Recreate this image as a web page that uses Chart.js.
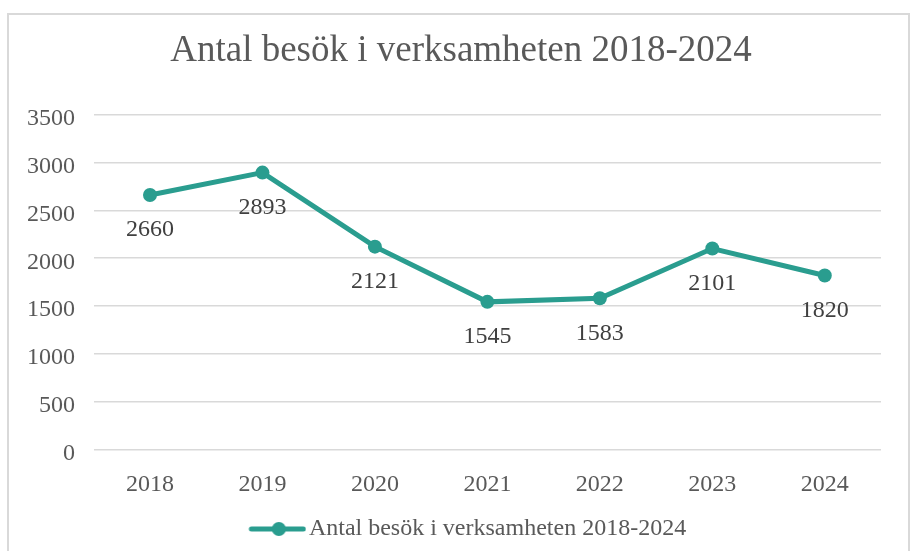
<!DOCTYPE html>
<html>
<head>
<meta charset="utf-8">
<script src="https://cdn.jsdelivr.net/npm/chart.js@4/dist/chart.umd.min.js"></script>
<style>
    html, body { margin: 0; padding: 0; background: #fff; overflow: hidden; }
    .frame {
        position: absolute; left: 7px; top: 13px;
        width: 903px; height: 600px;
        box-sizing: border-box;
        border: 2px solid #d9d9d9;
    }
    #visitsChart { position: absolute; left: 0; top: 0; }
</style>
</head>
<body>
<div class="frame"></div>
<canvas id="visitsChart" width="912" height="551"></canvas>
<script>
const years = ['2018', '2019', '2020', '2021', '2022', '2023', '2024'];
const visits = [2660, 2893, 2121, 1545, 1583, 2101, 1820];
const seriesName = 'Antal besök i verksamheten 2018-2024';
const chartTitle = 'Antal besök i verksamheten 2018-2024';

const lineColor = '#2a9d8f';
const serif = "'Liberation Serif', 'Times New Roman', serif";

Chart.defaults.font.family = serif;

// legend marker: short line with a dot, shifted right inside its box
function legendMarker() {
    const c = document.createElement('canvas');
    c.width = 80;
    c.height = 16;
    const g = c.getContext('2d');
    g.strokeStyle = lineColor;
    g.lineWidth = 5;
    g.lineCap = 'round';
    g.beginPath();
    g.moveTo(25, 8);
    g.lineTo(77, 8);
    g.stroke();
    g.fillStyle = lineColor;
    g.beginPath();
    g.arc(52.5, 8, 7, 0, Math.PI * 2);
    g.fill();
    return c;
}

const valueLabels = {
    id: 'valueLabels',
    afterDatasetsDraw(chart) {
        const ctx = chart.ctx;
        const meta = chart.getDatasetMeta(0);
        ctx.save();
        ctx.font = '24px ' + serif;
        ctx.fillStyle = '#404040';
        ctx.textAlign = 'center';
        ctx.textBaseline = 'middle';
        meta.data.forEach((pt, i) => {
            ctx.fillText(String(visits[i]), pt.x, pt.y + 35);
        });
        ctx.restore();
    }
};

const marker = legendMarker();

new Chart(document.getElementById('visitsChart').getContext('2d'), {
    type: 'line',
    data: {
        labels: years,
        datasets: [{
            label: seriesName,
            data: visits,
            borderColor: lineColor,
            backgroundColor: lineColor,
            borderWidth: 5,
            pointRadius: 7,
            pointHoverRadius: 7,
            pointBackgroundColor: lineColor,
            pointBorderWidth: 0,
            tension: 0
        }]
    },
    options: {
        responsive: false,
        devicePixelRatio: 1,
        animation: false,
        layout: {
            padding: { left: 41, right: 31, top: 0, bottom: 0 }
        },
        plugins: {
            title: {
                display: true,
                text: chartTitle,
                color: '#595959',
                font: { size: 37, weight: 'normal', family: serif },
                padding: { top: 29, bottom: 41 }
            },
            legend: {
                position: 'bottom',
                labels: {
                    usePointStyle: true,
                    pointStyleWidth: 61,
                    padding: 13,
                    color: '#595959',
                    font: { size: 24, family: serif },
                    generateLabels() {
                        return [{
                            text: seriesName,
                            fontColor: '#595959',
                            pointStyle: marker,
                            fillStyle: lineColor,
                            strokeStyle: lineColor,
                            lineWidth: 0,
                            datasetIndex: 0
                        }];
                    }
                }
            },
            tooltip: { enabled: false }
        },
        scales: {
            x: {
                offset: true,
                grid: { display: false, drawTicks: false },
                border: { display: false },
                ticks: {
                    color: '#595959',
                    font: { size: 24 },
                    padding: 20.6
                },
                afterFit(scale) { scale.height = 54; }
            },
            y: {
                min: 0,
                max: 3500,
                grid: { color: '#d9d9d9', lineWidth: 1.5, drawTicks: false },
                border: { display: false },
                ticks: {
                    stepSize: 500,
                    color: '#595959',
                    font: { size: 24 },
                    padding: 18.75,
                    labelOffset: 4,
                    callback: (v) => String(v)
                },
                afterFit(scale) {
                    scale.width = 52.75;
                    // tick labels stick out to the left of this narrow axis, so don't clip them
                    scale._computeLabelArea = () => undefined;
                }
            }
        }
    },
    plugins: [valueLabels]
});
</script>
</body>
</html>
